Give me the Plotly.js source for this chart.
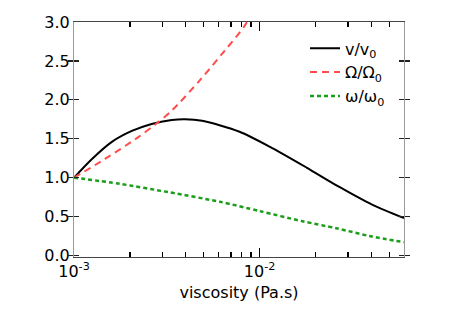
<!DOCTYPE html>
<html>
<head>
<meta charset="utf-8">
<script src="https://cdn.plot.ly/plotly-3.0.1.min.js"></script>
<style>html,body{margin:0;padding:0;background:#fff;}#chart{width:450px;height:315px;}</style>
</head>
<body>
<div id="chart"></div>
<script>
// viscosity (Pa.s) and normalized values
const vX = [1e-3, 1.25e-3, 1.6e-3, 2.05e-3, 2.62e-3, 3.36e-3, 3.96e-3, 4.9e-3, 7.8e-3, 1.17e-2, 1.79e-2, 2.69e-2, 4.06e-2, 6e-2];
const vY = [1.0, 1.24, 1.46, 1.60, 1.69, 1.74, 1.75, 1.73, 1.59, 1.38, 1.13, 0.88, 0.65, 0.48];

const bigOmegaX = [1e-3, 1.47e-3, 2.22e-3, 2.73e-3, 3.36e-3, 4.76e-3, 6.48e-3, 8.3e-3, 1e-2];
const bigOmegaY = [1.0, 1.24, 1.52, 1.68, 1.86, 2.25, 2.63, 2.95, 3.3];

const omegaX = [1e-3, 1.77e-3, 3.28e-3, 6.1e-3, 1e-2, 1.7e-2, 2.59e-2, 3.9e-2, 6e-2];
const omegaY = [1.0, 0.92, 0.81, 0.69, 0.57, 0.44, 0.35, 0.25, 0.17];

const seriesNames = ['v/v<sub>0</sub>', 'Ω/Ω<sub>0</sub>', 'ω/ω<sub>0</sub>'];
const yTickVals = [0, 0.5, 1.0, 1.5, 2.0, 2.5, 3.0];
const decades = [1e-3, 1e-2];
const decadeLabels = ['10<sup>-3</sup>', '10<sup>-2</sup>'];
const minorMultipliers = [2, 3, 4, 5, 6, 7, 8, 9];
const minorTickVals = [];
decades.forEach(d => minorMultipliers.forEach(m => minorTickVals.push(d * m)));

const FONT = 'DejaVu Sans, sans-serif';
const xRange = [-3, Math.log10(0.06)];

const traces = [
  {x: vX, y: vY, name: seriesNames[0], mode: 'lines',
   line: {color: '#000000', width: 2, shape: 'spline', smoothing: 0.8}},
  {x: bigOmegaX, y: bigOmegaY, name: seriesNames[1], mode: 'lines',
   line: {color: '#ff4d4d', width: 2, dash: '7px,5px', shape: 'spline', smoothing: 0.8}},
  {x: omegaX, y: omegaY, name: seriesNames[2], mode: 'lines',
   line: {color: '#1a9e1a', width: 2.5, dash: '4px,3px', shape: 'spline', smoothing: 0.8}},
  // invisible carrier trace for the minor-tick axis
  {x: [decades[0]], y: [1], xaxis: 'x2', mode: 'markers', marker: {opacity: 0},
   showlegend: false, hoverinfo: 'skip'}
];

const layout = {
  width: 450, height: 315,
  margin: {l: 74, r: 46, t: 22, b: 58, pad: 0},
  showlegend: true,
  legend: {x: 0.70, y: 0.96, xanchor: 'left', yanchor: 'top',
           bgcolor: 'rgba(0,0,0,0)', borderwidth: 0,
           font: {family: FONT, size: 16, color: '#000'}, tracegroupgap: 0},
  xaxis: {
    type: 'log', range: xRange,
    tickmode: 'array', tickvals: decades, ticktext: decadeLabels,
    showline: true, linecolor: '#444', mirror: 'allticks',
    ticks: 'inside', ticklen: 9, tickcolor: '#000', tickwidth: 1.5,
    showgrid: false, zeroline: false,
    tickfont: {family: FONT, size: 16, color: '#000'},
    title: {text: 'viscosity (Pa.s)', font: {family: FONT, size: 16, color: '#000'}, standoff: 6}
  },
  xaxis2: {
    type: 'log', range: xRange, overlaying: 'x', anchor: 'y', side: 'bottom',
    tickmode: 'array', tickvals: minorTickVals, showticklabels: false,
    showline: true, linecolor: '#444', mirror: 'allticks',
    ticks: 'inside', ticklen: 5, tickcolor: '#000', tickwidth: 1.5,
    showgrid: false, zeroline: false
  },
  yaxis: {
    range: [-0.02, 3.0],
    tickvals: yTickVals, tickformat: '.1f',
    showline: true, linecolor: '#999', mirror: 'allticks',
    ticks: 'inside', ticklen: 5, tickcolor: '#222', tickwidth: 1.3,
    showgrid: false, zeroline: false,
    tickfont: {family: FONT, size: 16, color: '#000'}
  }
};

Plotly.newPlot('chart', traces, layout, {displayModeBar: false, staticPlot: true});
</script>
</body>
</html>
